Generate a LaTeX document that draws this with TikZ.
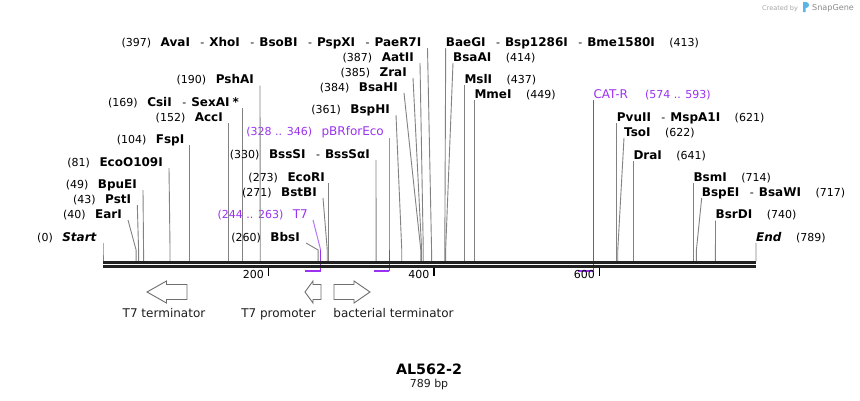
\documentclass[tikz,border=0pt]{standalone}
\usepackage{fontspec}
\setmainfont{DejaVu Sans}
\usetikzlibrary{calc}
\definecolor{dna}{RGB}{34,34,34}
\definecolor{lead}{RGB}{130,130,130}
\definecolor{prim}{RGB}{155,50,240}
\definecolor{primlt}{RGB}{185,115,250}
\definecolor{feat}{RGB}{110,110,110}
\definecolor{sgblue}{RGB}{90,180,230}
\newcommand\numf{\fontsize{11}{13}\selectfont\mdseries}
\newcommand\sepr{\hspace{10.5pt}{\numf -}\hspace{5pt}}
\newcommand\posx[1]{103+#1*0.8276}
% left label: id, x of text end, y centre, position, number, names
\newcommand\Lsite[6]{%
  \node[lab,anchor=east] (#1) at (#2,#3) {{\numf(#5)}\hspace{9.5pt}#6};
  \coordinate (#1-t) at ({min(#2+6,\posx{#4})},{#3+6});
  \coordinate (#1-k) at ({\posx{#4}},250);
  \coordinate (#1-s) at ({\posx{#4}},261);
  \draw[leader] (#1-t) -- (#1-k) -- (#1-s);}
% right label: id, x of text start, y centre, position, number, names
\newcommand\Rsite[6]{%
  \node[lab,anchor=west] (#1) at (#2,#3) {#6\hspace{14.5pt}{\numf(#5)}};
  \coordinate (#1-t) at ({max(#2,\posx{#4})},{#3+6});
  \coordinate (#1-k) at ({\posx{#4}},250);
  \coordinate (#1-s) at ({\posx{#4}},261);
  \draw[leader] (#1-t) -- (#1-k) -- (#1-s);}
\begin{document}
\begin{tikzpicture}[x=1pt,y=-1pt,
  lab/.style={inner sep=0pt, text height=8.7pt, text depth=0pt, font=\fontsize{12}{14}\selectfont\bfseries, text=black},
  plab/.style={inner sep=0pt, text height=8.7pt, text depth=0pt, font=\fontsize{12}{14}\selectfont, text=prim},
  leader/.style={draw=lead, line width=0.9pt},
  pleader/.style={draw=primlt, line width=1pt},
  pline/.style={draw=prim, line width=1pt},
  pbar/.style={draw=prim, line width=2pt},
  dnaline/.style={draw=dna},
  tickmark/.style={draw=black, line width=1.6pt},
  ticklab/.style={inner sep=0pt, font=\fontsize{11}{13}\selectfont, text=black},
  featarrow/.style={draw=feat, fill=white, line width=0.9pt, line join=miter},
  flab/.style={inner sep=0pt, font=\fontsize{12}{14}\selectfont, text={rgb,255:red,30;green,30;blue,30}}
]
\fill[white] (0,0) rectangle (860,400);
\useasboundingbox (0,0) rectangle (860,400);

% ---- primers (drawn first, DNA on top)
\node[plab,anchor=east] (pT7) at (308,214) {{\fontsize{11}{13}\selectfont(244 .. 263)}\hspace{9.5pt}T7};
\coordinate (pT7-t) at (313,220);
\coordinate (pT7-k) at ({\posx{263}},250);
\coordinate (pT7-b) at ({\posx{263}},270.5);
\coordinate (pT7-a) at ({\posx{244}},270.5);
\draw[pleader] (pT7-t) -- (pT7-k);
\draw[pline] (pT7-k) -- (pT7-b);
\draw[pbar] (pT7-a) -- (pT7-b);

\node[plab,anchor=east] (pBR) at (384,131.5) {{\fontsize{11}{13}\selectfont(328 .. 346)}\hspace{9.5pt}pBRforEco};
\coordinate (pBR-t) at ({\posx{346}},138);
\coordinate (pBR-k) at ({\posx{346}},250);
\coordinate (pBR-b) at ({\posx{346}},270.5);
\coordinate (pBR-a) at ({\posx{328}},270.5);
\draw[pleader] (pBR-t) -- (pBR-k);
\draw[pline] (pBR-k) -- (pBR-b);
\draw[pbar] (pBR-a) -- (pBR-b);

\node[plab,anchor=west] (pCAT) at (593.3,94) {CAT-R\hspace{17pt}{\fontsize{11}{13}\selectfont(574 .. 593)}};
\coordinate (pCAT-t) at ({\posx{593}},100);
\coordinate (pCAT-k) at ({\posx{593}},250);
\coordinate (pCAT-b) at ({\posx{593}},270.5);
\coordinate (pCAT-a) at ({\posx{574}},270.5);
\draw[pline] (pCAT-t) -- (pCAT-k);
\draw[pline] (pCAT-k) -- (pCAT-b);
\draw[pbar] (pCAT-a) -- (pCAT-b);

% ---- restriction sites, left-hand labels
\Lsite{Start}{97}{237}{0}{0}{\textit{Start}}
\Lsite{EarI}{122}{214}{40}{40}{EarI}
\Lsite{PstI}{131.3}{199}{43}{43}{PstI}
\Lsite{BpuEI}{137}{184}{49}{49}{BpuEI}
\Lsite{EcoO}{163}{162}{81}{81}{EcoO109I}
\Lsite{FspI}{184.5}{139}{104}{104}{FspI}
\Lsite{AccI}{223}{117}{152}{152}{AccI}
\Lsite{CsiI}{239}{102}{169}{169}{CsiI\sepr SexAI\hspace{3pt}*}
\Lsite{PshAI}{254}{79.5}{190}{190}{PshAI}
\Lsite{BbsI}{300}{237}{260}{260}{BbsI}
\Lsite{BstBI}{317}{192}{271}{271}{BstBI}
\Lsite{EcoRI}{325}{177}{273}{273}{EcoRI}
\Lsite{BssSI}{370}{154}{330}{330}{BssSI\sepr BssSαI}
\Lsite{BspHI}{390}{109}{361}{361}{BspHI}
\Lsite{BsaHI}{398}{87}{384}{384}{BsaHI}
\Lsite{ZraI}{407}{72}{385}{385}{ZraI}
\Lsite{AatII}{414}{57}{387}{387}{AatII}
\Lsite{AvaI}{421.5}{42}{397}{397}{AvaI\sepr XhoI\sepr BsoBI\sepr PspXI\sepr PaeR7I}

% ---- restriction sites, right-hand labels
\Rsite{BaeGI}{445.7}{42}{413}{413}{BaeGI\sepr Bsp1286I\sepr Bme1580I}
\Rsite{BsaAI}{453}{57}{414}{414}{BsaAI}
\Rsite{MslI}{464.3}{79}{437}{437}{MslI}
\Rsite{MmeI}{474.3}{94}{449}{449}{MmeI}
\Rsite{PvuII}{616.7}{117}{621}{621}{PvuII\sepr MspA1I}
\Rsite{TsoI}{624}{132}{622}{622}{TsoI}
\Rsite{DraI}{633.3}{155}{641}{641}{DraI}
\Rsite{BsmI}{693.3}{177}{714}{714}{BsmI}
\Rsite{BspEI}{701.7}{192}{717}{717}{BspEI\sepr BsaWI}
\Rsite{BsrDI}{715.5}{214.5}{740}{740}{BsrDI}
\Rsite{End}{756}{237}{789}{789}{\textit{End}}

% ---- DNA
\coordinate (dnaL1) at (103,262.5);
\coordinate (dnaR1) at (756,262.5);
\coordinate (dnaL2) at (103,266.6);
\coordinate (dnaR2) at (756,266.6);
\draw[dnaline, line width=3pt] (dnaL1) -- (dnaR1);
\draw[dnaline, line width=2.6pt] (dnaL2) -- (dnaR2);

% ---- ticks
\foreach \p in {200,400,600}{
  \coordinate (tk\p a) at ({\posx{\p}},268);
  \coordinate (tk\p b) at ({\posx{\p}},275.5);
  \draw[tickmark] (tk\p a) -- (tk\p b);
  \node[ticklab,anchor=base east] (tl\p) at ({\posx{\p}-4.5},278.5) {\p};
}

% ---- features
\draw[featarrow] (187,284.5) -- (166.5,284.5) -- (166.5,281) -- (147,292) -- (166.5,303) -- (166.5,299.5) -- (187,299.5) -- cycle;
\draw[featarrow] (321,284.5) -- (313,284.5) -- (313,281) -- (305,292) -- (313,303) -- (313,299.5) -- (321,299.5) -- cycle;
\draw[featarrow] (334,284.5) -- (354,284.5) -- (354,281) -- (370,292) -- (354,303) -- (354,299.5) -- (334,299.5) -- cycle;
\node[flab,anchor=base] (f1) at (164,317.5) {T7 terminator};
\node[flab,anchor=base] (f2) at (278.5,317.5) {T7 promoter};
\node[flab,anchor=base] (f3) at (393.5,317.5) {bacterial terminator};

% ---- title
\node[inner sep=0pt, anchor=base, font=\fontsize{14.3}{16}\selectfont\bfseries] (title) at (429,374) {AL562-2};
\node[inner sep=0pt, anchor=base, font=\fontsize{11}{13}\selectfont, text={rgb,255:red,30;green,30;blue,30}] (len) at (429,387.5) {789 bp};

% ---- credit
\node[inner sep=0pt, anchor=base west, font=\fontsize{6.5}{8}\selectfont, text=black!35] (cb) at (762,10) {Created by};
\fill[sgblue] (803,2) -- (806,2) .. controls (810,2) and (810,8) .. (806,8) -- (805.6,8) -- (805.6,12) -- (803,12) -- cycle;
\node[inner sep=0pt, anchor=base west, font=\fontsize{8.1}{10}\selectfont, text=black!45] (sg) at (812,10.5) {SnapGene};
\end{tikzpicture}
\end{document}
